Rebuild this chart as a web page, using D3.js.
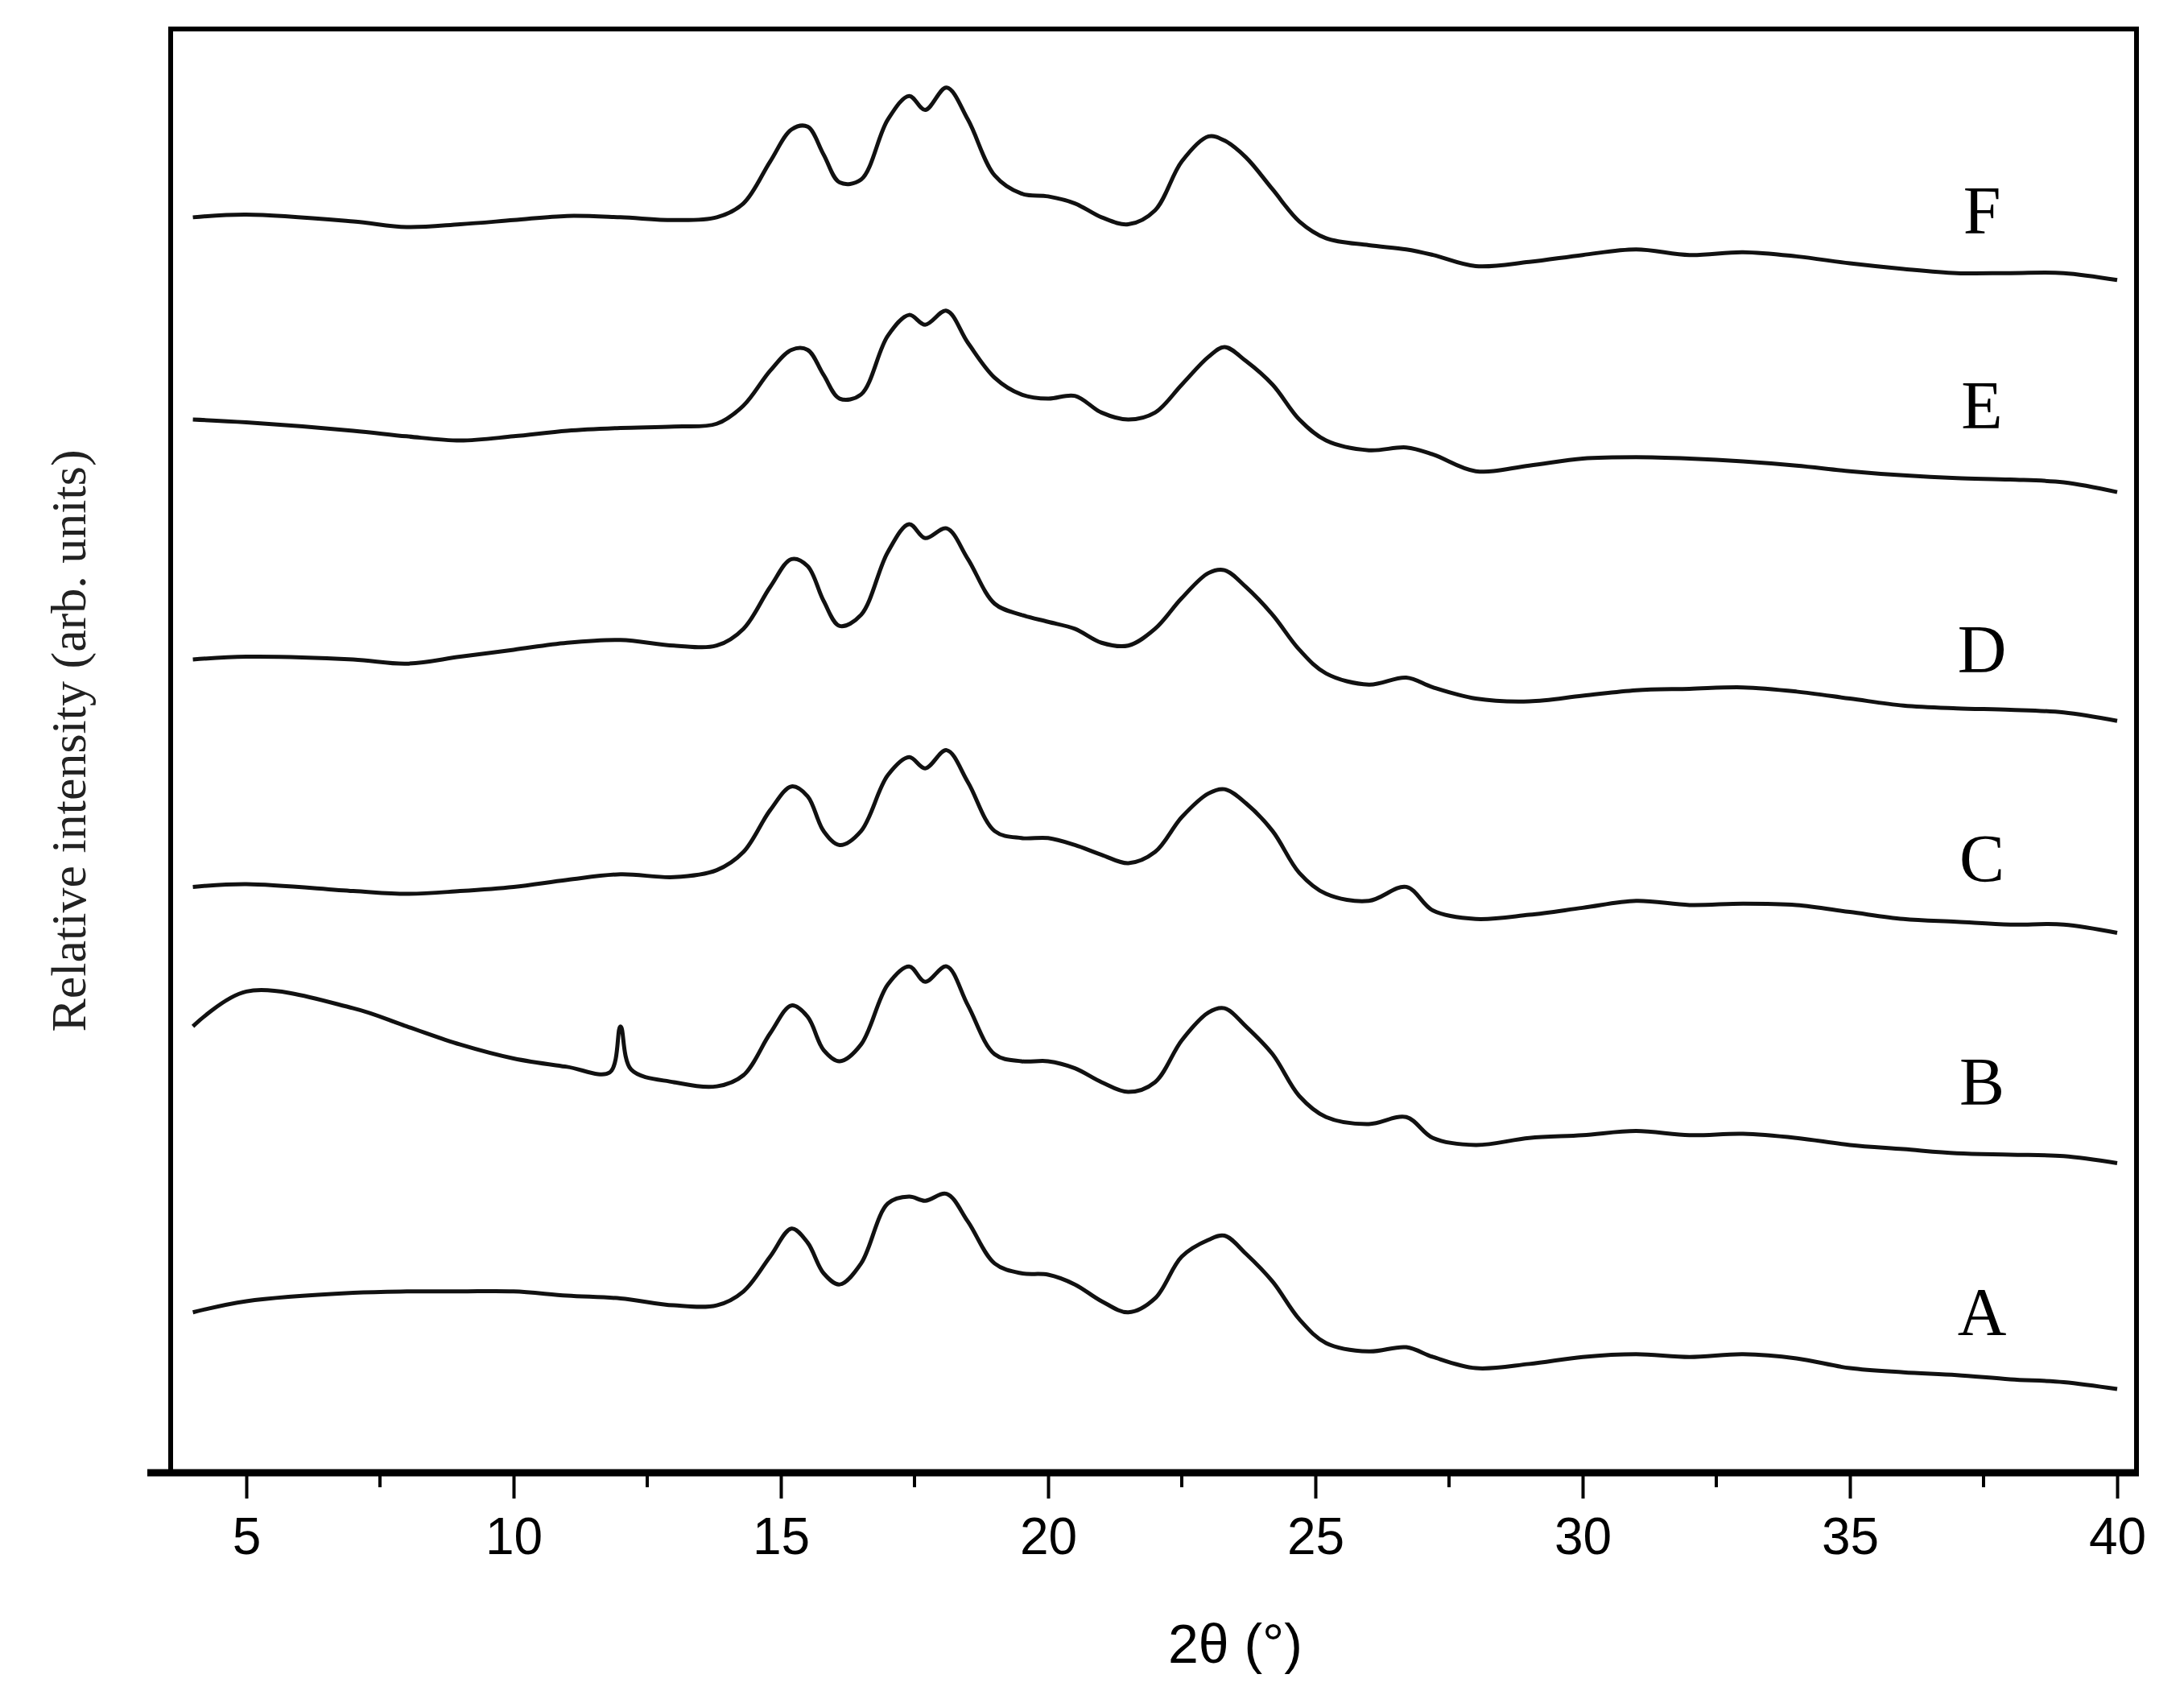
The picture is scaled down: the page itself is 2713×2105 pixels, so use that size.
<!DOCTYPE html>
<html>
<head>
<meta charset="utf-8">
<script src="https://cdn.jsdelivr.net/npm/d3@7"></script>
<style>
  body { margin: 0; background: #fff; }
</style>
</head>
<body>
<div id="xrd-chart"></div>
<script>
// 2theta positions (degrees) at which the traces were read
const twoTheta = [4,5,7,8,9,10,11,12,13,13.8,14.3,14.8,15.2,15.5,15.8,16.1,16.5,17.0,17.4,17.7,18.1,18.5,19.0,19.5,20,20.5,21,21.5,22,22.5,23.0,23.3,23.7,24.2,24.7,25.2,26,26.7,27.2,28,29,30,31,32,33,34,35,36,37,38,39,40];

// readings, in vertical offset units (larger = lower on the plot)
const seriesF = [155,153,158,162,160,157,154,155,157,155,145,115,92,90,110,130,128,85,68,78,62,85,125,138,140,145,155,160,150,115,97,100,112,135,158,170,175,178,182,190,187,182,178,182,180,183,188,192,195,195,195,200];
const seriesE = [300,302,308,312,315,312,308,306,305,303,290,265,250,250,268,285,282,240,225,232,222,245,270,282,285,283,295,300,295,275,255,248,258,275,300,315,322,320,325,337,333,328,327,328,330,333,337,340,342,343,345,352];
const seriesD = [472,470,472,475,470,465,460,458,462,462,450,420,400,405,430,448,440,395,375,385,378,400,432,440,445,450,460,462,450,428,410,408,420,440,465,482,490,485,492,500,502,498,494,493,492,495,500,505,507,508,510,516];
const seriesC = [635,633,638,640,638,635,630,626,628,623,610,580,563,570,595,605,595,555,542,550,537,560,595,600,600,605,612,618,610,585,568,565,575,595,625,640,645,635,652,658,655,650,645,648,647,648,653,658,660,662,662,668];
const seriesB = [735,710,722,735,748,758,764,766,775,778,770,740,720,728,752,760,748,705,692,703,692,720,755,760,760,765,775,782,775,745,725,722,735,755,785,800,805,800,815,820,815,813,810,813,812,815,820,823,826,827,828,833];
const seriesA = [940,932,926,925,925,925,928,930,935,935,925,900,880,890,912,920,905,862,857,860,855,875,905,912,913,920,932,940,930,900,888,885,898,918,945,962,968,965,972,980,977,972,970,972,970,973,980,983,985,988,990,995];

// sharp reflection of sample B near 12 degrees
const peakB = [[11.8,768],[12.0,735],[12.2,766]];

const labels = ["F","E","D","C","B","A"];
const labelPos = [150,290,465,615,775,940];
const xTicks = [5,10,15,20,25,30,35,40];

const allSeries = [seriesF, seriesE, seriesD, seriesC, seriesB, seriesA];

const W = 2713, H = 2105;
const frame = { left: 212, right: 2654, top: 36, bottom: 1829 };

const svg = d3.select("#xrd-chart")
    .append("svg")
    .attr("width", W)
    .attr("height", H);

const xScale = d3.scaleLinear().domain([5, 40]).range([306, 2630]);
const yScale = d3.scaleLinear().domain([20, 1055]).range([frame.top, frame.bottom]);

// frame
svg.append("path")
    .attr("d", `M${frame.left},${frame.bottom} V${frame.top} H${frame.right} V${frame.bottom}`)
    .attr("fill", "none")
    .attr("stroke", "#000")
    .attr("stroke-width", 6);

// x axis
const xAxis = d3.axisBottom(xScale)
    .tickValues(xTicks)
    .tickSize(32)
    .tickPadding(24)
    .tickSizeOuter(0);

const gx = svg.append("g")
    .attr("transform", `translate(0,${frame.bottom})`)
    .call(xAxis);
gx.select(".domain").remove();
gx.selectAll(".tick line").attr("stroke-width", 4);
gx.selectAll("text")
    .style("font-family", "Liberation Sans, Arial, sans-serif")
    .style("font-size", "64px")
    .attr("fill", "#000");

// minor ticks
gx.selectAll(".minor")
    .data(d3.range(7.5, 40, 5))
    .enter()
    .append("line")
    .attr("x1", d => xScale(d))
    .attr("x2", d => xScale(d))
    .attr("y1", 0)
    .attr("y2", 18)
    .attr("stroke", "#000")
    .attr("stroke-width", 4);

svg.append("line")
    .attr("x1", 183).attr("x2", frame.right + 3)
    .attr("y1", frame.bottom).attr("y2", frame.bottom)
    .attr("stroke", "#000")
    .attr("stroke-width", 9);

// axis titles
svg.append("text")
    .attr("x", xScale(23.5))
    .attr("y", 2065)
    .attr("text-anchor", "middle")
    .style("font-family", "Liberation Sans, Arial, sans-serif")
    .style("font-size", "68px")
    .text("2θ (°)");

svg.append("text")
    .attr("transform", "rotate(-90)")
    .attr("x", -920)
    .attr("y", 106)
    .attr("text-anchor", "middle")
    .style("font-family", "Liberation Serif, Times New Roman, serif")
    .style("font-size", "62px")
    .attr("fill", "#222")
    .text("Relative intensity (arb. units)");

// traces
const line = d3.line()
    .x(d => xScale(d[0]))
    .y(d => yScale(d[1]))
    .curve(d3.curveCatmullRom);

allSeries.forEach((s, i) => {
    let pts = twoTheta.map((t, j) => [t, s[j]]);
    if (labels[i] === "B") {
        pts = pts.filter(p => p[0] < 11.8 || p[0] > 12.2).concat(peakB).sort((a, b) => a[0] - b[0]);
    }
    svg.append("path")
        .datum(pts)
        .attr("d", line)
        .attr("fill", "none")
        .attr("stroke", "#111")
        .attr("stroke-width", 5);
});

// sample letters
svg.selectAll(".lbl")
    .data(labels)
    .enter()
    .append("text")
    .attr("x", 2462)
    .attr("y", (d, i) => yScale(labelPos[i]))
    .attr("dominant-baseline", "central")
    .attr("text-anchor", "middle")
    .style("font-family", "Liberation Serif, Times New Roman, serif")
    .style("font-size", "84px")
    .text(d => d);
</script>
</body>
</html>
